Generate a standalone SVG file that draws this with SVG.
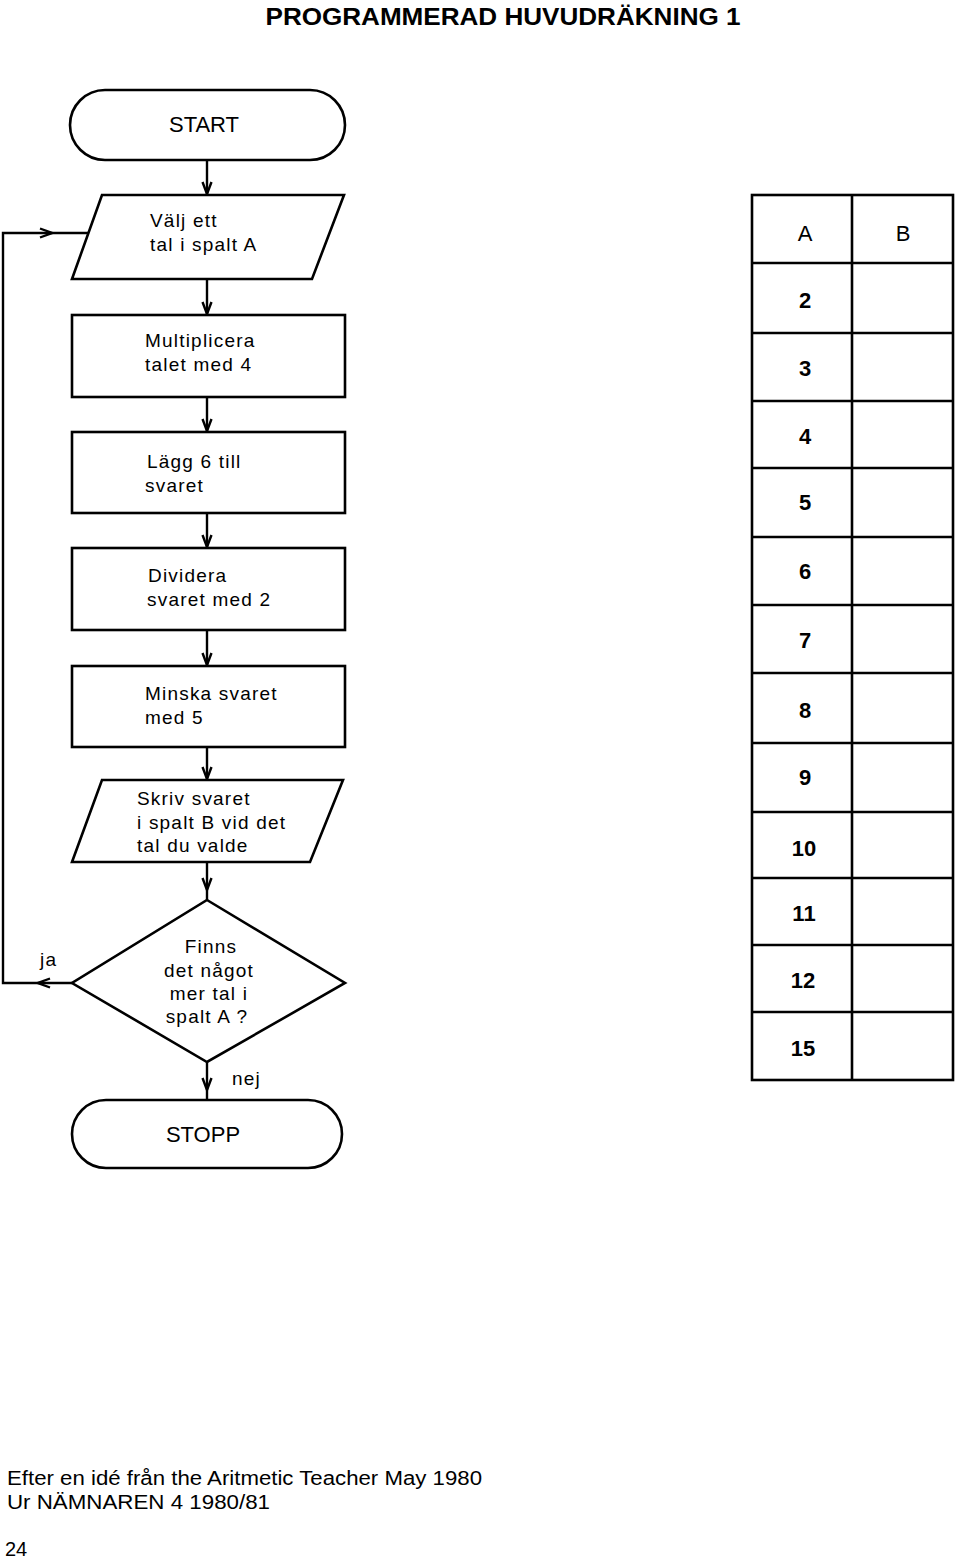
<svg xmlns="http://www.w3.org/2000/svg" width="960" height="1560" viewBox="0 0 960 1560">
<style>
.shape{fill:none;stroke:#000;stroke-width:2.6;stroke-linejoin:miter}
.conn{fill:none;stroke:#000;stroke-width:2.4}
.t{font-family:"Liberation Sans",Arial,sans-serif;font-size:19px;letter-spacing:1.2px;fill:#000}
.tc{text-anchor:middle}
.term{font-family:"Liberation Sans",Arial,sans-serif;font-size:22px;fill:#000;text-anchor:middle}
.num{font-family:"Liberation Sans",Arial,sans-serif;font-size:22px;font-weight:bold;fill:#000;text-anchor:middle}
.hdr{font-family:"Liberation Sans",Arial,sans-serif;font-size:22px;fill:#000;text-anchor:middle}
.grid{fill:none;stroke:#000;stroke-width:2.6}
.foot{font-family:"Liberation Sans",Arial,sans-serif;font-size:20px;fill:#000}
</style>
<defs>
<marker id="arr" viewBox="0 0 14 12" refX="13" refY="6" markerWidth="14" markerHeight="12" markerUnits="userSpaceOnUse" orient="auto">
<path d="M1,1.5 L13,6 L1,10.5" fill="none" stroke="#000" stroke-width="2.4"/>
</marker>
</defs>
<rect width="960" height="1560" fill="#fff"/>

<text x="503" y="25" font-family="'Liberation Sans',Arial,sans-serif" font-size="23" font-weight="bold" text-anchor="middle" textLength="475" lengthAdjust="spacingAndGlyphs">PROGRAMMERAD HUVUDRÄKNING 1</text>

<g id="connectors">
<path class="conn" d="M207,160 L207,194" marker-end="url(#arr)"/>
<path class="conn" d="M207,279 L207,314" marker-end="url(#arr)"/>
<path class="conn" d="M207,397 L207,431" marker-end="url(#arr)"/>
<path class="conn" d="M207,513 L207,547" marker-end="url(#arr)"/>
<path class="conn" d="M207,630 L207,665" marker-end="url(#arr)"/>
<path class="conn" d="M207,747 L207,779" marker-end="url(#arr)"/>
<path class="conn" d="M207,862 L207,890" marker-end="url(#arr)"/>
<path class="conn" d="M207,890 L207,900"/>
<path class="conn" d="M207,1062 L207,1090" marker-end="url(#arr)"/>
<path class="conn" d="M207,1090 L207,1100"/>
<path class="conn" d="M72,983 L38,983" marker-end="url(#arr)"/>
<path class="conn" d="M38,983 L3,983 L3,233 L52,233" marker-end="url(#arr)"/>
<path class="conn" d="M52,233 L89,233"/>
<text class="t" x="40" y="966">ja</text>
<text class="t" x="232" y="1085">nej</text>
</g>

<g id="start">
<rect class="shape" x="70" y="90" width="275" height="70" rx="35" ry="35"/>
<text class="term" x="204" y="132">START</text>
</g>

<g id="input">
<polygon class="shape" points="102,195 344,195 312,279 72,279"/>
<text class="t" x="150" y="227">Välj ett</text>
<text class="t" x="150" y="251">tal i spalt A</text>
</g>

<g id="multiply">
<rect class="shape" x="72" y="315" width="273" height="82"/>
<text class="t" x="145" y="347">Multiplicera</text>
<text class="t" x="145" y="371">talet med 4</text>
</g>

<g id="add">
<rect class="shape" x="72" y="432" width="273" height="81"/>
<text class="t" x="147" y="468">Lägg 6 till</text>
<text class="t" x="145" y="492">svaret</text>
</g>

<g id="divide">
<rect class="shape" x="72" y="548" width="273" height="82"/>
<text class="t" x="148" y="582" letter-spacing="2">Dividera</text>
<text class="t" x="147" y="606">svaret med 2</text>
</g>

<g id="subtract">
<rect class="shape" x="72" y="666" width="273" height="81"/>
<text class="t" x="145" y="700">Minska svaret</text>
<text class="t" x="145" y="724">med 5</text>
</g>

<g id="output">
<polygon class="shape" points="102,780 343,780 310,862 72,862"/>
<text class="t" x="137" y="805">Skriv svaret</text>
<text class="t" x="137" y="829">i spalt B vid det</text>
<text class="t" x="137" y="852">tal du valde</text>
</g>

<g id="decision">
<polygon class="shape" points="207,900 345,983 207,1062 72,983"/>
<text class="t tc" x="211" y="953">Finns</text>
<text class="t tc" x="209" y="977">det något</text>
<text class="t tc" x="209" y="1000">mer tal i</text>
<text class="t tc" x="207" y="1023">spalt A ?</text>
</g>

<g id="stop">
<rect class="shape" x="72" y="1100" width="270" height="68" rx="34" ry="34"/>
<text class="term" x="203" y="1142">STOPP</text>
</g>

<g id="table">
<rect class="grid" x="752" y="195" width="201" height="885"/>
<line class="grid" x1="852" y1="195" x2="852" y2="1080"/>
<path class="grid" d="M752,263H953 M752,333H953 M752,401H953 M752,468H953 M752,537H953 M752,605H953 M752,673H953 M752,743H953 M752,812H953 M752,878H953 M752,945H953 M752,1012H953"/>
<text class="hdr" x="805" y="241">A</text>
<text class="hdr" x="903" y="241">B</text>
<text class="num" x="805" y="308">2</text>
<text class="num" x="805" y="376">3</text>
<text class="num" x="805" y="444">4</text>
<text class="num" x="805" y="510">5</text>
<text class="num" x="805" y="579">6</text>
<text class="num" x="805" y="648">7</text>
<text class="num" x="805" y="718">8</text>
<text class="num" x="805" y="785">9</text>
<text class="num" x="804" y="856">10</text>
<text class="num" x="804" y="921">11</text>
<text class="num" x="803" y="988">12</text>
<text class="num" x="803" y="1056">15</text>
</g>

<g id="footer">
<text class="foot" x="7" y="1485" textLength="475" lengthAdjust="spacingAndGlyphs">Efter en idé från the Aritmetic Teacher May 1980</text>
<text class="foot" x="7" y="1509" textLength="263" lengthAdjust="spacingAndGlyphs">Ur NÄMNAREN 4 1980/81</text>
<text class="foot" x="5" y="1556">24</text>
</g>
</svg>
